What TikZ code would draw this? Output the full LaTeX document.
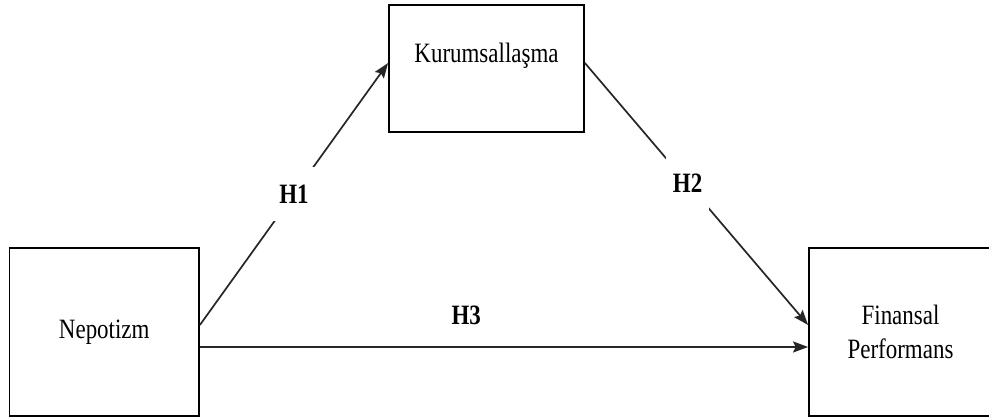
\documentclass[tikz,border=0pt]{standalone}
\usepackage{fontspec}
\setmainfont{Liberation Serif}[FakeStretch=0.82]
\usetikzlibrary{arrows.meta}
\begin{document}
\begin{tikzpicture}[x=1pt,y=-1pt,
  font=\fontsize{28pt}{33.6pt}\selectfont,
  box/.style={draw=black, line width=1.8pt, inner sep=0pt, align=center},
  link/.style={draw=black!85, line width=1.7pt, -{Stealth[length=15pt,width=11pt,inset=2.5pt]}},
  hyp/.style={font=\fontsize{28pt}{33.6pt}\selectfont\bfseries, fill=white, inner xsep=7pt, inner ysep=17.5pt},
  hypfree/.style={font=\fontsize{28pt}{33.6pt}\selectfont\bfseries, inner sep=0pt}]
\clip (0,0) rectangle (989,419);
\fill[white] (0,0) rectangle (989,419);
\node[box, minimum width=189.5pt, minimum height=168pt] (nep) at (104.25,332) {Nepotizm};
\node[box, minimum width=195pt, minimum height=127pt, text height=58pt, text depth=69pt] (kur) at (486.5,68.5) {Kurumsallaşma};
\node[box, minimum width=183pt, minimum height=168pt] (fin) at (900.5,332) {Finansal\\Performans};
\draw[link] ([yshift=7pt]nep.east) -- node[hyp] (h1) {H1} ([yshift=5.5pt]kur.west);
\draw[link] ([yshift=5.5pt]kur.east) -- node[hyp, pos=0.46] (h2) {H2} ([yshift=7pt]fin.west);
\draw[link] ([yshift=-15pt]nep.east) -- node[hypfree, pos=0.438, yshift=32pt] (h3) {H3} ([yshift=-15pt]fin.west);
\end{tikzpicture}
\end{document}
